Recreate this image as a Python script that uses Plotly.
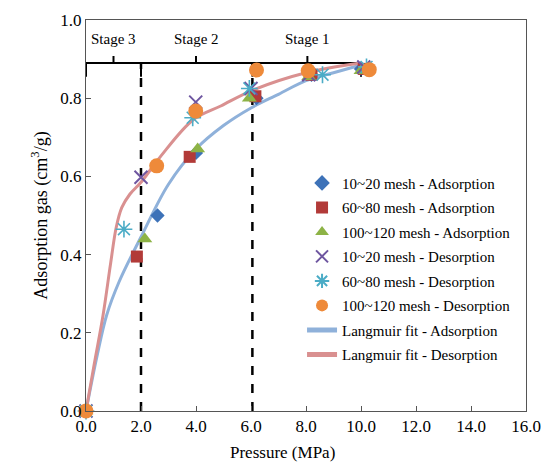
import plotly.graph_objects as go

# ---------------- data ----------------
ads_10_20_x = [0.0, 2.6, 4.0, 6.2, 8.2, 10.0]
ads_10_20_y = [0.0, 0.50, 0.66, 0.80, 0.86, 0.875]

ads_60_80_x = [0.0, 1.85, 3.77, 6.16, 8.2, 10.1]
ads_60_80_y = [0.0, 0.395, 0.65, 0.805, 0.86, 0.875]

ads_100_120_x = [0.0, 2.14, 4.06, 5.94, 8.1, 10.0]
ads_100_120_y = [0.0, 0.44, 0.67, 0.80, 0.855, 0.87]

des_10_20_x = [0.0, 2.0, 3.99, 6.0, 8.1, 10.1]
des_10_20_y = [0.0, 0.598, 0.79, 0.825, 0.86, 0.88]

des_60_80_x = [0.0, 1.38, 3.88, 5.94, 8.6, 10.2]
des_60_80_y = [0.0, 0.465, 0.75, 0.825, 0.86, 0.88]

des_100_120_x = [0.0, 2.57, 3.99, 6.2, 8.08, 10.3]
des_100_120_y = [0.0, 0.627, 0.767, 0.872, 0.87, 0.873]

fit_ads_x = [0.0, 0.4, 0.75, 1.2, 2.0, 3.0, 4.0, 5.0, 6.0, 7.0, 8.0, 9.0, 10.0]
fit_ads_y = [0.0, 0.14, 0.245, 0.33, 0.445, 0.58, 0.67, 0.73, 0.775, 0.81, 0.845, 0.865, 0.885]

fit_des_x = [0.0, 0.3, 0.62, 0.9, 1.1, 1.3, 1.6, 2.0, 2.7, 3.9, 4.9, 6.05, 8.0, 10.0]
fit_des_y = [0.0, 0.12, 0.245, 0.38, 0.47, 0.52, 0.555, 0.585, 0.65, 0.745, 0.78, 0.82, 0.865, 0.89]

stage_bounds = [0.0, 2.0, 6.05, 10.0]
stage_names = ["Stage 3", "Stage 2", "Stage 1"]
stage_centers = [1.0, 4.0, 8.05]
bracket_y = 0.89

x_ticks = [0, 2, 4, 6, 8, 10, 12, 14, 16]
y_ticks = [0.0, 0.2, 0.4, 0.6, 0.8, 1.0]

FONT = "Liberation Serif"

fig = go.Figure()

# dashed stage boundary lines
for xb in stage_bounds[1:3]:
    fig.add_trace(go.Scatter(x=[xb, xb], y=[0.0, bracket_y], mode="lines",
                             line=dict(color="black", width=2.5, dash="dash"),
                             showlegend=False, hoverinfo="skip"))

# bracket: horizontal line with downward hooks at bounds and nubs at centers
fig.add_trace(go.Scatter(x=[stage_bounds[0], stage_bounds[-1]], y=[bracket_y, bracket_y],
                         mode="lines", line=dict(color="black", width=2),
                         showlegend=False, hoverinfo="skip"))
for xb in stage_bounds:
    fig.add_trace(go.Scatter(x=[xb, xb], y=[bracket_y, bracket_y - 0.035], mode="lines",
                             line=dict(color="black", width=2),
                             showlegend=False, hoverinfo="skip"))
for xc in stage_centers:
    fig.add_trace(go.Scatter(x=[xc, xc], y=[bracket_y, bracket_y + 0.018], mode="lines",
                             line=dict(color="black", width=2),
                             showlegend=False, hoverinfo="skip"))

# fit lines
fig.add_trace(go.Scatter(x=fit_ads_x, y=fit_ads_y, mode="lines", name="Langmuir fit - Adsorption",
                         line=dict(color="#8FB1DA", width=3, shape="spline"), legendrank=7,
                         legendgroup="g7"))
fig.add_trace(go.Scatter(x=fit_des_x, y=fit_des_y, mode="lines", name="Langmuir fit - Desorption",
                         line=dict(color="#D99090", width=3, shape="spline"), legendrank=8,
                         legendgroup="g8"))

# markers
marker_traces = [
    (ads_10_20_x, ads_10_20_y, "10~20 mesh - Adsorption",
     dict(symbol="diamond", size=11, color="#3D72B8")),
    (ads_60_80_x, ads_60_80_y, "60~80 mesh - Adsorption",
     dict(symbol="square", size=12, color="#B23A38")),
    (ads_100_120_x, ads_100_120_y, "100~120 mesh - Adsorption",
     dict(symbol="triangle-up", size=13, color="#8DB346")),
    (des_10_20_x, des_10_20_y, "10~20 mesh - Desorption",
     dict(symbol="x-thin-open", size=13, color="#6E56A0", line=dict(width=2, color="#6E56A0"))),
    (des_60_80_x, des_60_80_y, "60~80 mesh - Desorption",
     dict(symbol="asterisk-open", size=14, color="#4BACC6", line=dict(width=1.6, color="#4BACC6"))),
    (des_100_120_x, des_100_120_y, "100~120 mesh - Desorption",
     dict(symbol="circle", size=15, color="#EE8A3A")),
]
for i, (xs, ys, nm, mk) in enumerate(marker_traces):
    fig.add_trace(go.Scatter(x=xs, y=ys, mode="markers", name=nm, marker=mk,
                             legendrank=i + 1, legendgroup=f"g{i+1}", cliponaxis=False))

for name, xc in zip(stage_names, stage_centers):
    fig.add_annotation(x=xc, y=0.951, text=name, showarrow=False,
                       font=dict(family=FONT, size=15, color="black"))

# x-axis title (placed like the original, slightly left of centre)
fig.add_annotation(x=0.447, y=-0.105, xref="paper", yref="paper", text="Pressure (MPa)",
                   showarrow=False, xanchor="center", yanchor="middle",
                   font=dict(family=FONT, size=17, color="black"))

fig.update_layout(
    width=552, height=466,
    margin=dict(l=86, r=24, t=11, b=55),
    paper_bgcolor="white", plot_bgcolor="white",
    font=dict(family=FONT, color="black"),
    legend=dict(x=0.491, y=0.625, xanchor="left", yanchor="top",
                font=dict(family=FONT, size=15, color="black"),
                bgcolor="rgba(0,0,0,0)", tracegroupgap=2, itemsizing="constant"),
)
fig.update_xaxes(range=[0, 16], tickvals=x_ticks, ticktext=[f"{v:.1f}" for v in x_ticks],
                 showline=True, linecolor="#555", linewidth=1, mirror=True,
                 ticks="inside", ticklen=5, tickcolor="#555", showgrid=False, zeroline=False,
                 tickfont=dict(family=FONT, size=17, color="black"))
fig.update_yaxes(range=[0, 1.0], tickvals=y_ticks, ticktext=[f"{v:.1f}" for v in y_ticks],
                 showline=True, linecolor="#555", linewidth=1, mirror=True,
                 ticks="inside", ticklen=5, tickcolor="#555", showgrid=False, zeroline=False,
                 tickfont=dict(family=FONT, size=17, color="black"),
                 title=dict(text="Adsorption gas (cm<sup>3</sup>/g)",
                            font=dict(family=FONT, size=18, color="black"), standoff=8))

fig.write_html("out.html")
